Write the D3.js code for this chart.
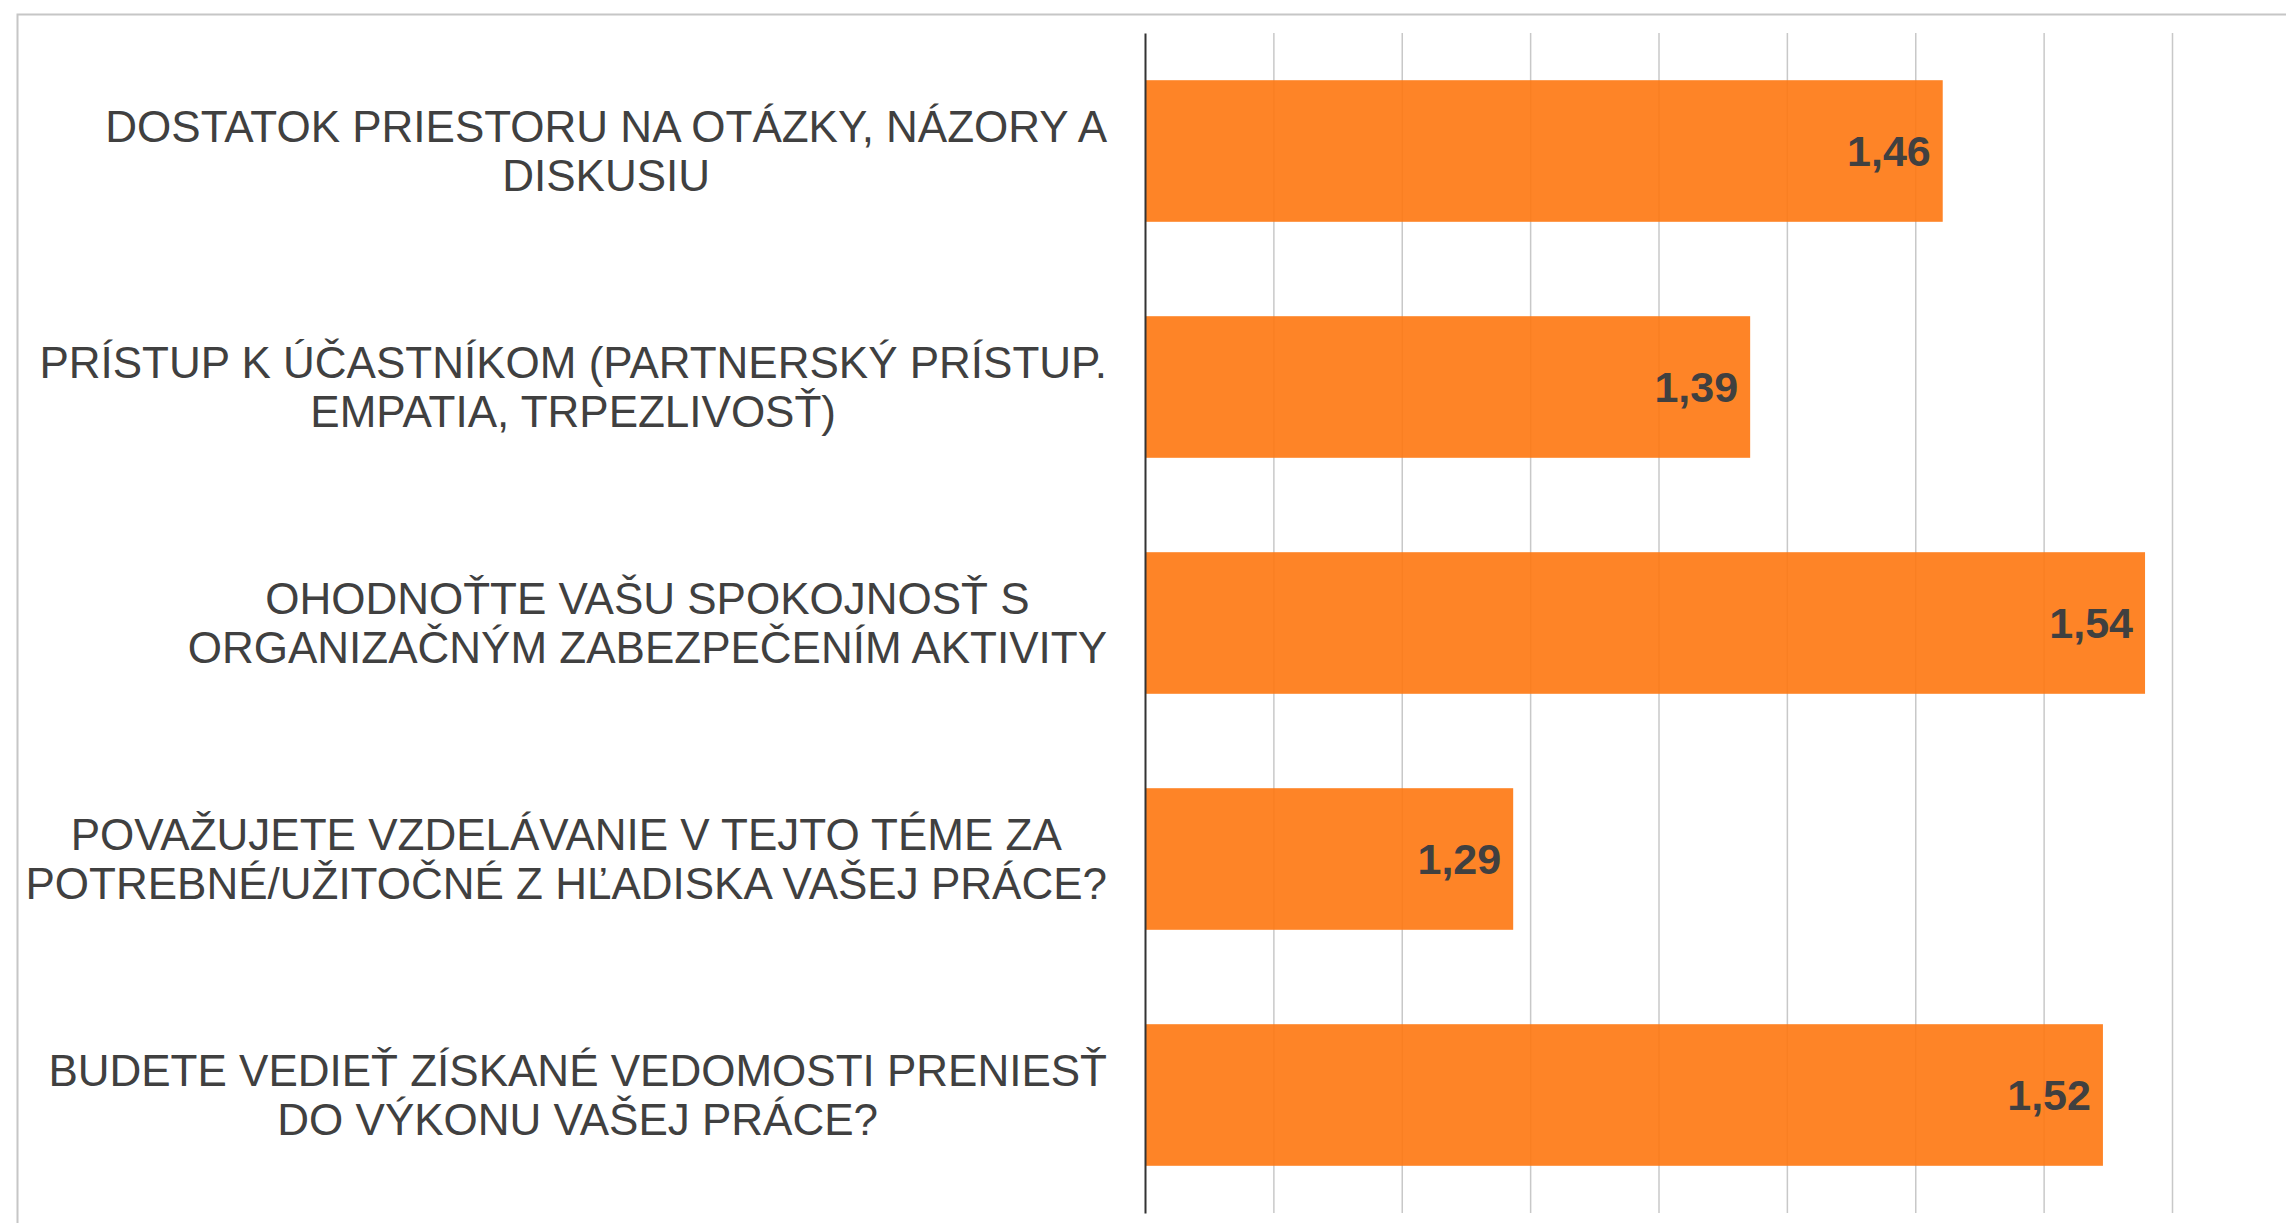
<!DOCTYPE html>
<html>
<head>
<meta charset="utf-8">
<script src="https://cdn.jsdelivr.net/npm/d3@7"></script>
<style>
  html, body { margin: 0; padding: 0; background: #ffffff; overflow: hidden; }
  svg { display: block; }
</style>
</head>
<body>
<svg id="chart" width="2286" height="1223"></svg>
<script>
// ---- data ----
const categoryLines = [
  ["DOSTATOK PRIESTORU NA OTÁZKY, NÁZORY A", "DISKUSIU"],
  ["PRÍSTUP K ÚČASTNÍKOM (PARTNERSKÝ PRÍSTUP.", "EMPATIA, TRPEZLIVOSŤ)"],
  ["OHODNOŤTE VAŠU SPOKOJNOSŤ S", "ORGANIZAČNÝM ZABEZPEČENÍM AKTIVITY"],
  ["POVAŽUJETE VZDELÁVANIE V TEJTO TÉME ZA", "POTREBNÉ/UŽITOČNÉ Z HĽADISKA VAŠEJ PRÁCE?"],
  ["BUDETE VEDIEŤ ZÍSKANÉ VEDOMOSTI PRENIESŤ", "DO VÝKONU VAŠEJ PRÁCE?"]
];
// bar lengths (labels show them rounded to 2 decimals)
const values = [1.4607, 1.3857, 1.5395, 1.2934, 1.5231];
const axisDomain = [1.15, 1.55];
const gridTicks = [1.20, 1.25, 1.30, 1.35, 1.40, 1.45, 1.50, 1.55];

// ---- layout ----
const W = 2286, H = 1223;
const plot = { left: 1145, right: 2172, top: 33, bottom: 1213 };
const labelRight = 1107;
const FONT = "'Liberation Sans', Arial, Helvetica, sans-serif";
const fmtValue = v => v.toFixed(2).replace(".", ",");

const svg = d3.select("#chart");

// outer frame (clipped by viewport on right/bottom)
svg.append("rect")
  .attr("x", 17.5).attr("y", 14.5)
  .attr("width", W + 20).attr("height", H + 20)
  .attr("fill", "#ffffff")
  .attr("stroke", "#c6c6c6").attr("stroke-width", 2);

const x = d3.scaleLinear().domain(axisDomain).range([plot.left, plot.right]);
const y = d3.scaleBand().domain(d3.range(values.length))
  .range([plot.top, plot.bottom]).paddingInner(0.4).paddingOuter(0.2);

// gridlines
svg.append("g")
  .attr("transform", `translate(0,${plot.bottom})`)
  .call(d3.axisBottom(x).tickValues(gridTicks)
    .tickSize(-(plot.bottom - plot.top)).tickFormat(""))
  .call(g => g.select(".domain").remove())
  .call(g => g.selectAll(".tick line").attr("stroke", "#c8c8c8").attr("stroke-width", 1.5));

// bars
svg.append("g").selectAll("rect")
  .data(values)
  .join("rect")
  .attr("x", x(axisDomain[0]))
  .attr("y", (d, i) => y(i))
  .attr("width", d => x(d) - x(axisDomain[0]))
  .attr("height", y.bandwidth())
  .attr("fill", "#fe7710")
  .attr("fill-opacity", 0.9);

// axis line (baseline)
svg.append("g")
  .attr("transform", `translate(${plot.left},0)`)
  .call(d3.axisLeft(y).tickSize(0).tickFormat(""))
  .call(g => g.select(".domain").attr("stroke", "#333333").attr("stroke-width", 2));

// value labels
svg.append("g").selectAll("text")
  .data(values)
  .join("text")
  .attr("x", d => x(d) - 12)
  .attr("y", (d, i) => y(i) + y.bandwidth() / 2)
  .attr("dy", "0.35em")
  .attr("text-anchor", "end")
  .attr("font-family", FONT)
  .attr("font-size", 43)
  .attr("font-weight", "bold")
  .attr("fill", "#404040")
  .text(d => fmtValue(d));

// category labels: block right aligned, lines centered within block
const lineH = 48.5;
const catG = svg.append("g");
categoryLines.forEach((lines, i) => {
  const cy = y(i) + y.bandwidth() / 2;
  const t = catG.append("text")
    .attr("font-family", FONT)
    .attr("font-size", 44)
    .attr("fill", "#404040")
    .attr("text-anchor", "middle");
  const spans = lines.map((ln, j) => t.append("tspan")
    .attr("y", cy + (j - (lines.length - 1) / 2) * lineH)
    .attr("dy", "0.35em")
    .text(ln));
  const maxW = d3.max(spans, s => s.node().getComputedTextLength());
  spans.forEach(s => s.attr("x", labelRight - maxW / 2));
});
</script>
</body>
</html>
